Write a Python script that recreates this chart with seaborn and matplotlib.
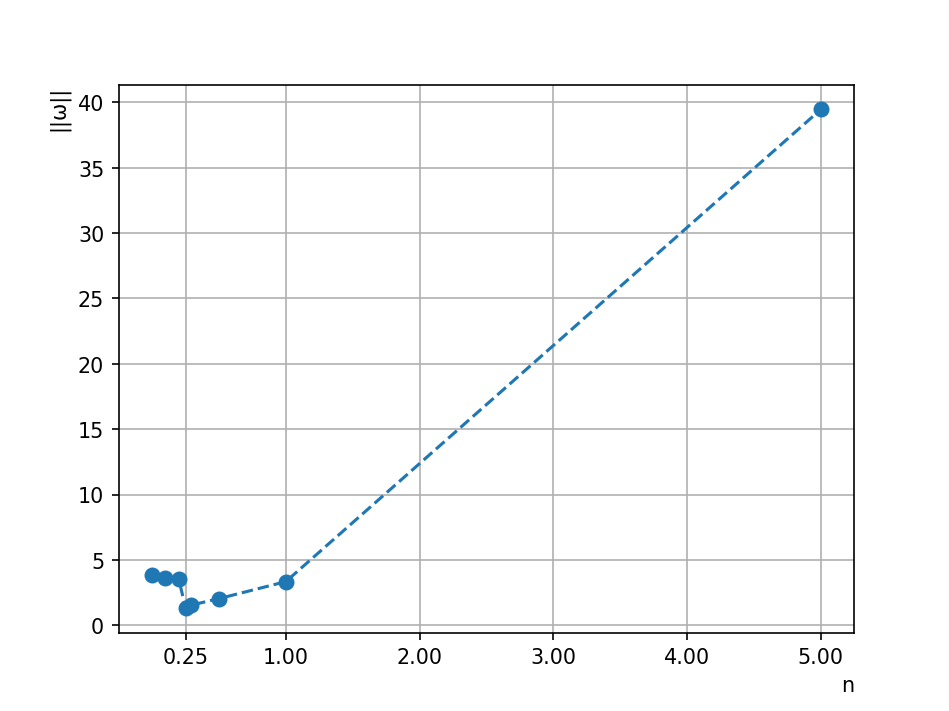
import numpy as np
import pandas as pd
import matplotlib
matplotlib.use("Agg")
import matplotlib.pyplot as plt
import seaborn as sns

n_vals = [0.0, 0.1, 0.2, 0.25, 0.29, 0.5, 1.0, 5.0]
w_norm = [3.83, 3.65, 3.52, 1.35, 1.55, 2.05, 3.35, 39.45]
xtick_vals = [0.25, 1.0, 2.0, 3.0, 4.0, 5.0]

df = pd.DataFrame({"n": n_vals, "w": w_norm})

fig, ax = plt.subplots(figsize=(6.4, 4.8), dpi=148.3)
sns.lineplot(data=df, x="n", y="w", marker="o", linestyle="--", sort=False,
             color="#1f77b4", markeredgecolor="#1f77b4", markersize=7, ax=ax)
ax.set_xticks(xtick_vals)
ax.set_xticklabels(["%.2f" % v for v in xtick_vals])
ax.set_xlabel("n", loc="right")
ax.set_ylabel("||ω||", loc="top")
ax.grid(True)
fig.savefig("out.png")
